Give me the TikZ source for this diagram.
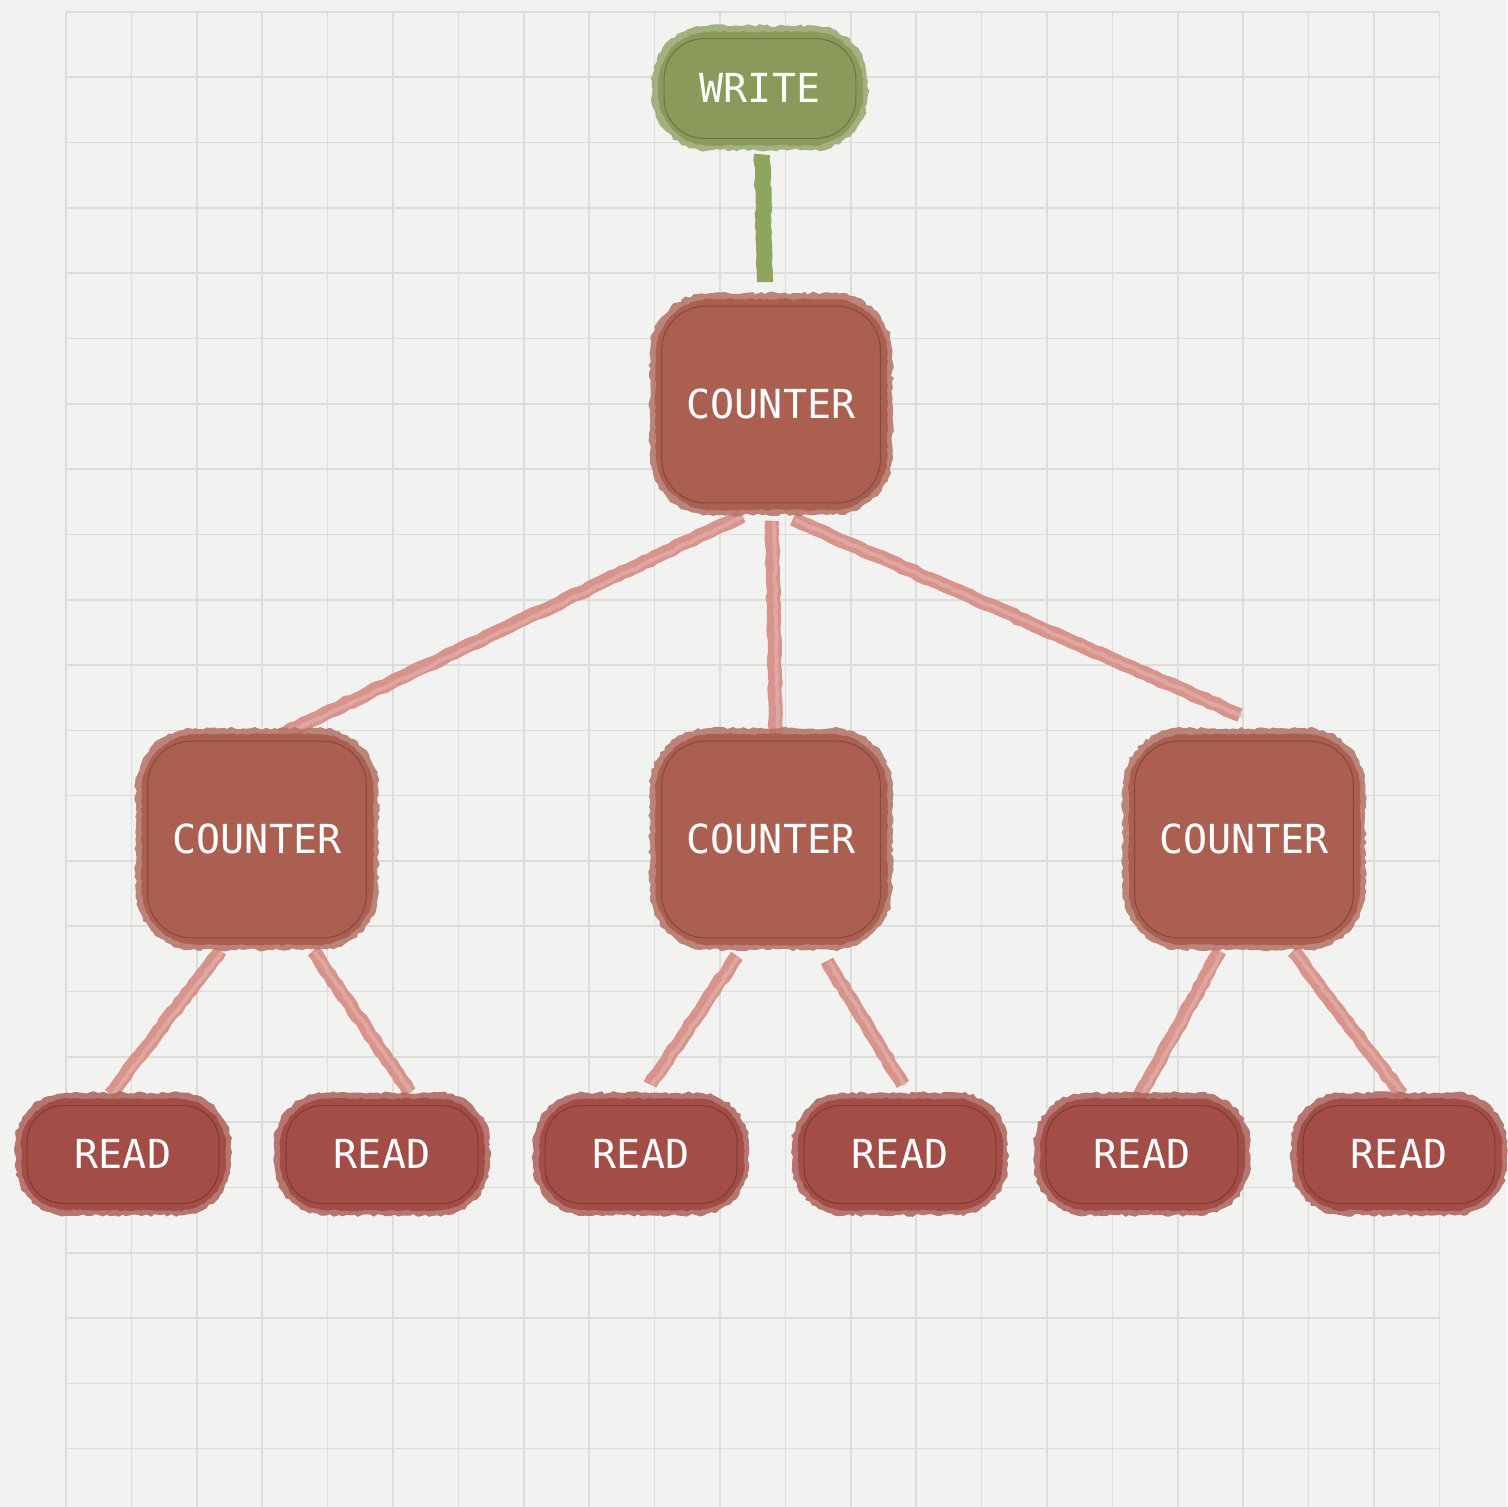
\documentclass[tikz,border=0pt]{standalone}
\usepackage{fontspec}
\setmonofont{DejaVu Sans Mono}
\usetikzlibrary{calc,decorations.pathmorphing}

\definecolor{paper}{HTML}{F2F2F0}
\definecolor{gridline}{HTML}{DCDCDA}
\definecolor{counterred}{HTML}{AA5F51}
\definecolor{readred}{HTML}{A24D46}
\definecolor{writegreen}{HTML}{899A5A}
\definecolor{linkred}{HTML}{D8948C}
\definecolor{linkgreen}{HTML}{8FA45E}

\pgfdeclarelayer{paperlayer}
\pgfdeclarelayer{linklayer}
\pgfdeclarelayer{boxlayer}
\pgfsetlayers{paperlayer,linklayer,boxlayer,main}

\begin{document}
\begin{tikzpicture}[x=0.5pt,y=-0.5pt,
  card/.style={text=white, inner sep=0pt,
    font=\ttfamily\fontsize{20}{24}\selectfont},
  countbox/.style={card, minimum width=119pt, minimum height=108.5pt},
  readbox/.style={card, minimum width=105.5pt, minimum height=59pt},
  writebox/.style={card, minimum width=105.5pt, minimum height=60pt},
  rough/.style={decorate, decoration={random steps, segment length=3pt, amplitude=0.45pt}},
  link/.style={draw=linkred, line width=7pt, line cap=butt},
  linkedge/.style={draw=linkred!70!white, line width=2pt, opacity=0.6},
  greenlink/.style={draw=linkgreen, line width=8pt, line cap=butt},
]
\useasboundingbox (0,0) rectangle (1507,1507);

% paper and squared grid
\begin{pgfonlayer}{paperlayer}
\fill[paper] (0,0) rectangle (1507,1507);
\foreach \i in {0,...,21}
  \draw[gridline, line width=0.8pt] (66+65.4*\i,12) -- (66+65.4*\i,1507);
\foreach \j in {0,...,22}
  \draw[gridline, line width=0.8pt] (66,12+65.3*\j) -- (1439.4,12+65.3*\j);
\end{pgfonlayer}

% boxes
\node[writebox] (w)  at (760,88)   {WRITE};
\node[countbox] (c0) at (771,404)  {COUNTER};
\node[countbox] (c1) at (257,839)  {COUNTER};
\node[countbox] (c2) at (771,839)  {COUNTER};
\node[countbox] (c3) at (1244,839) {COUNTER};
\node[readbox]  (r1) at (123,1154)  {READ};
\node[readbox]  (r2) at (382,1154)  {READ};
\node[readbox]  (r3) at (641,1154)  {READ};
\node[readbox]  (r4) at (900,1154)  {READ};
\node[readbox]  (r5) at (1142,1154) {READ};
\node[readbox]  (r6) at (1399,1154) {READ};

% painted box bodies, drawn behind the labels
\begin{pgfonlayer}{boxlayer}
  \foreach \n/\col/\r in {w/writegreen/28, c0/counterred/30, c1/counterred/30,
      c2/counterred/30, c3/counterred/30, r1/readred/26, r2/readred/26,
      r3/readred/26, r4/readred/26, r5/readred/26, r6/readred/26} {
    \fill[\col!85!white, opacity=0.9] decorate[decoration={random steps, segment length=2pt, amplitude=0.7pt}]
      {[rounded corners=\r] ($(\n.north west)+(-2,-2)$) rectangle ($(\n.south east)+(2,2)$)};
    \fill[\col] decorate[decoration={random steps, segment length=2pt, amplitude=0.4pt}]
      {[rounded corners=\r-2] ($(\n.north west)+(4,4)$) rectangle ($(\n.south east)+(-3,-3)$)};
    \draw[\col!55!black, line width=0.5pt, opacity=0.5, rounded corners=\r-8]
      ($(\n.north west)+(10,11)$) rectangle ($(\n.south east)+(-10,-10)$);
  }
\end{pgfonlayer}

% connectors, under the boxes
\begin{pgfonlayer}{linklayer}
  \draw[greenlink, rough] ($(w.south)+(2,6)$) -- ($(c0.north)+(-6,-13)$);
  \foreach \a/\da/\b/\db in {c0/{-29,3}/c1/{23,5}, c0/{1,8}/c2/{5,5},
      c0/{22,6}/c3/{-4,-15}, c1/{-37,3}/r1/{-13,0}, c1/{56,3}/r2/{28,-2},
      c2/{-34,8}/r3/{9,-10}, c2/{56,13}/r4/{3,-10}, c3/{-24,3}/r5/{-7,10},
      c3/{49,3}/r6/{3,0}} {
    \draw[link, rough] ($(\a.south)+(\da)$) -- ($(\b.north)+(\db)$);
    \draw[linkedge, rough] ($(\a.south)+(\da)+(2,1)$) -- ($(\b.north)+(\db)+(2,1)$);
  }
\end{pgfonlayer}
\end{tikzpicture}
\end{document}
